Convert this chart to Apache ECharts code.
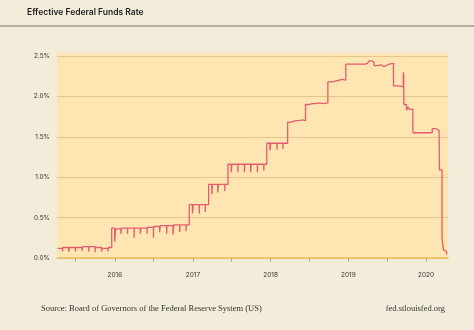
<!DOCTYPE html>
<html><head><meta charset="utf-8">
<script src="https://cdn.jsdelivr.net/npm/echarts@6/dist/echarts.min.js"></script>
<style>html,body{margin:0;padding:0;background:#f3ecdb;}#c{width:474px;height:330px;}</style>
</head><body><div id="c"></div>
<script>
const titleText = "Effective Federal Funds Rate";
const sourceText = "Source: Board of Governors of the Federal Reserve System (US)";
const siteText = "fed.stlouisfed.org";
const xMin = "2015-04-04", xMax = "2020-04-13";
const yTicks = [0, 0.5, 1, 1.5, 2, 2.5];

const dates = [
"2015-04-06","2015-04-30","2015-05-01","2015-05-29","2015-06-01","2015-06-30","2015-07-01","2015-07-31","2015-08-03","2015-08-31","2015-09-01","2015-09-30","2015-10-01","2015-10-30","2015-11-02","2015-11-30","2015-12-01","2015-12-17",
"2015-12-31","2016-01-04","2016-01-29","2016-02-01","2016-02-29","2016-03-01","2016-03-31","2016-04-01","2016-04-29","2016-05-02","2016-05-31","2016-06-01","2016-06-30","2016-07-01","2016-07-29","2016-08-01","2016-08-31","2016-09-01","2016-09-30","2016-10-03","2016-10-31","2016-11-01","2016-11-30","2016-12-01","2016-12-15",
"2016-12-30","2017-01-03","2017-01-31","2017-02-01","2017-02-28","2017-03-01","2017-03-16","2017-03-31","2017-04-03","2017-04-28","2017-05-01","2017-05-31","2017-06-01","2017-06-15",
"2017-06-30","2017-07-03","2017-07-31","2017-08-01","2017-08-31","2017-09-01","2017-09-29","2017-10-02","2017-10-31","2017-11-01","2017-11-30","2017-12-01","2017-12-14",
"2017-12-29","2018-01-02","2018-01-31","2018-02-01","2018-02-28","2018-03-01","2018-03-22","2018-04-02","2018-04-16","2018-05-01","2018-05-15","2018-05-31","2018-06-01","2018-06-14","2018-07-02","2018-07-16","2018-08-01","2018-08-15","2018-09-04","2018-09-27","2018-10-15","2018-11-01","2018-11-19","2018-12-03","2018-12-20",
"2019-01-15","2019-03-01","2019-03-20","2019-04-01","2019-04-10","2019-04-22","2019-05-02","2019-05-16","2019-06-03","2019-06-17","2019-06-28","2019-07-10","2019-08-01","2019-08-20","2019-09-16","2019-09-17","2019-09-18","2019-09-19","2019-10-01","2019-10-08","2019-10-15","2019-10-31",
"2019-11-01","2019-12-02","2019-12-31","2020-01-02","2020-01-30","2020-02-18","2020-03-02","2020-03-04","2020-03-16","2020-03-18","2020-03-23","2020-03-30","2020-04-06","2020-04-10"
];
const rates = [
0.12,0.08,0.13,0.08,0.13,0.08,0.13,0.09,0.14,0.08,0.14,0.07,0.13,0.08,0.12,0.08,0.13,0.37,
0.20,0.36,0.30,0.37,0.30,0.37,0.25,0.37,0.30,0.37,0.30,0.38,0.25,0.39,0.32,0.40,0.30,0.40,0.29,0.41,0.32,0.41,0.33,0.41,0.66,
0.55,0.66,0.55,0.66,0.57,0.66,0.91,0.79,0.91,0.81,0.91,0.83,0.91,1.16,
1.06,1.16,1.06,1.16,1.06,1.16,1.06,1.16,1.06,1.16,1.08,1.16,1.42,
1.33,1.42,1.34,1.42,1.35,1.42,1.68,1.69,1.70,1.70,1.71,1.69,1.70,1.90,1.91,1.91,1.92,1.91,1.92,2.18,2.19,2.20,2.21,2.20,2.40,
2.40,2.40,2.41,2.43,2.44,2.42,2.38,2.39,2.37,2.38,2.40,2.41,2.13,2.12,2.25,2.30,2.25,1.90,1.83,1.87,1.84,1.58,
1.55,1.55,1.55,1.55,1.60,1.58,1.59,1.09,0.25,0.20,0.10,0.08,0.05,0.05
];

const seriesData = dates.map((d, i) => [d, rates[i]]);

const chart = echarts.init(document.getElementById('c'), null, {renderer: 'canvas'});
chart.setOption({
  animation: false,
  backgroundColor: '#f3ecdb',
  textStyle: {fontFamily: 'Inter'},
  graphic: [
    {type: 'rect', z: -10, shape: {x: 57, y: 53, width: 391, height: 205}, style: {fill: '#fee5b1'}},
    {type: 'line', shape: {x1: 0, y1: 26, x2: 474, y2: 26}, style: {stroke: '#a39d92', lineWidth: 1.5}},
    {type: 'text', left: 27, top: 8, style: {text: titleText, font: '600 8.5px Inter', fill: '#222'}},
    {type: 'text', left: 41, top: 304, style: {text: sourceText, font: '8.5px "Liberation Serif"', fill: '#333'}},
    {type: 'text', right: 29, top: 304, style: {text: siteText, font: '8.5px "Liberation Serif"', fill: '#333'}}
  ],
  grid: {left: 57, right: 26, top: 56, bottom: 72, containLabel: false},
  xAxis: {
    type: 'time',
    min: xMin, max: xMax,
    splitNumber: 10,
    axisLine: {show: true, lineStyle: {color: '#eebc55', width: 1.5}},
    axisTick: {show: true, length: 4, lineStyle: {color: '#b8ad9a'}},
    splitLine: {show: false},
    axisLabel: {
      margin: 14, fontSize: 6.5, color: '#333', fontFamily: 'Inter',
      showMinLabel: false, showMaxLabel: false,
      formatter: function (v) { const d = new Date(v); return d.getMonth() === 0 ? String(d.getFullYear()) : ''; }
    }
  },
  yAxis: {
    type: 'value', min: yTicks[0], max: yTicks[yTicks.length - 1], interval: 0.5,
    axisLine: {show: false}, axisTick: {show: false},
    splitLine: {lineStyle: {color: '#e4c68c', width: 1}},
    axisLabel: {margin: 7, fontSize: 6.5, color: '#333', fontFamily: 'Inter',
      formatter: v => v.toFixed(1) + '%'}
  },
  series: [{
    type: 'line', step: 'end', data: seriesData, showSymbol: false,
    lineStyle: {color: '#e65c6e', width: 1.3}
  }]
});
</script></body></html>
